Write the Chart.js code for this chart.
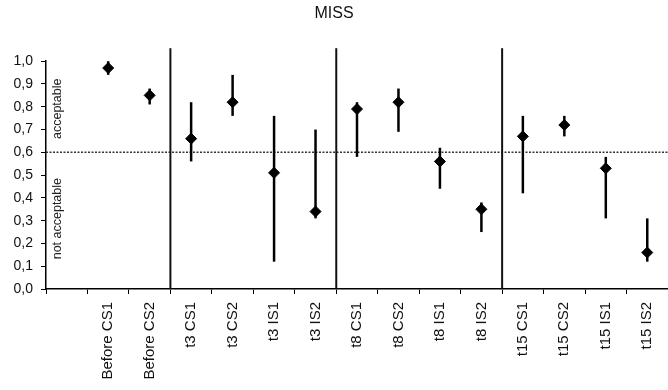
<!DOCTYPE html>
<html>
<head>
<meta charset="utf-8">
<script src="https://cdn.jsdelivr.net/npm/chart.js@4"></script>
<style>
  html, body { margin: 0; padding: 0; background: #fff; }
  #wrap { width: 668px; height: 390px; }
</style>
</head>
<body>
<div id="wrap"><canvas id="missChart"></canvas></div>
<script>
var categories = ['Before CS1', 'Before CS2', 't3 CS1', 't3 CS2', 't3 IS1', 't3 IS2',
  't8 CS1', 't8 CS2', 't8 IS1', 't8 IS2', 't15 CS1', 't15 CS2', 't15 IS1', 't15 IS2'];
var missValues = [0.97, 0.85, 0.66, 0.82, 0.51, 0.34, 0.79, 0.82, 0.56, 0.35, 0.67, 0.72, 0.53, 0.16];
var lowerValues = [0.94, 0.81, 0.56, 0.76, 0.12, 0.31, 0.58, 0.69, 0.44, 0.25, 0.42, 0.67, 0.31, 0.12];
var upperValues = [1.00, 0.88, 0.82, 0.94, 0.76, 0.70, 0.82, 0.88, 0.62, 0.38, 0.76, 0.76, 0.58, 0.31];
var yTicks = [0, 0.1, 0.2, 0.3, 0.4, 0.5, 0.6, 0.7, 0.8, 0.9, 1.0];
var threshold = 0.6;
var groupEnds = ['Before CS2', 't3 IS2', 't8 IS2'];

// primera categoria vacia como en el original
var labels = [''].concat(categories);
var values = [null].concat(missValues);
var lows = [null].concat(lowerValues);
var highs = [null].concat(upperValues);

var FONT = "'Liberation Sans', Arial, sans-serif";

var missPlugin = {
  id: 'missExtras',
  beforeDatasetsDraw: function (chart) {
    var ctx = chart.ctx, area = chart.chartArea;
    var x = chart.scales.x, y = chart.scales.y;
    ctx.save();

    // linea de aceptacion
    var ty = y.getPixelForValue(threshold);
    ctx.strokeStyle = '#333';
    ctx.lineWidth = 1.5;
    ctx.setLineDash([2, 1.5]);
    ctx.beginPath();
    ctx.moveTo(area.left, ty);
    ctx.lineTo(area.right, ty);
    ctx.stroke();
    ctx.setLineDash([]);

    // separadores de grupo
    ctx.strokeStyle = '#111';
    ctx.lineWidth = 2;
    groupEnds.forEach(function (name) {
      var i = labels.indexOf(name);
      var sx = (x.getPixelForValue(i) + x.getPixelForValue(i + 1)) / 2;
      ctx.beginPath();
      ctx.moveTo(sx, area.top - 13);
      ctx.lineTo(sx, area.bottom);
      ctx.stroke();
    });

    // barras de error
    ctx.strokeStyle = '#000';
    ctx.lineWidth = 2.5;
    for (var i = 0; i < labels.length; i++) {
      if (lows[i] == null) continue;
      var px = x.getPixelForValue(i);
      ctx.beginPath();
      ctx.moveTo(px, y.getPixelForValue(lows[i]));
      ctx.lineTo(px, y.getPixelForValue(highs[i]));
      ctx.stroke();
    }

    // textos aceptable / no aceptable
    ctx.fillStyle = '#222';
    ctx.font = '12.5px ' + FONT;
    ctx.textAlign = 'center';
    ctx.textBaseline = 'middle';
    var tx = area.left + 12;
    [[(area.top + ty) / 2 + 2, 'acceptable'], [(ty + area.bottom) / 2 - 2, 'not acceptable']].forEach(function (t) {
      ctx.save();
      ctx.translate(tx, t[0]);
      ctx.rotate(-Math.PI / 2);
      ctx.fillText(t[1], 0, 0);
      ctx.restore();
    });
    ctx.restore();
  }
};

var chart = new Chart(document.getElementById('missChart'), {
  type: 'line',
  data: {
    labels: labels,
    datasets: [{
      data: values,
      showLine: false,
      pointStyle: 'rectRot',
      pointRadius: 5.5,
      pointHoverRadius: 5.5,
      backgroundColor: '#000',
      borderColor: '#000',
      borderWidth: 1
    }]
  },
  options: {
    responsive: true,
    maintainAspectRatio: false,
    animation: false,
    events: [],
    layout: { padding: 0, autoPadding: false },
    plugins: {
      legend: { display: false },
      tooltip: { enabled: false },
      title: {
        display: true,
        text: 'MISS',
        color: '#111',
        font: { family: FONT, size: 16, weight: 'normal' },
        padding: { top: 4, bottom: 38 }
      }
    },
    scales: {
      x: {
        type: 'category',
        offset: true,
        grid: { display: true, drawOnChartArea: false, drawTicks: true, tickLength: 5, color: '#000', offset: true },
        border: { display: true, color: '#000', width: 1.5 },
        ticks: {
          color: '#111',
          font: { family: FONT, size: 15 },
          minRotation: 90,
          maxRotation: 90,
          autoSkip: false,
          padding: 8
        },
        afterFit: function (scale) {
          scale.height = 101;
          scale.paddingLeft = 0;
          scale.paddingRight = 0;
        }
      },
      y: {
        min: 0,
        max: 1,
        grid: { display: true, drawOnChartArea: false, drawTicks: true, tickLength: 5, color: '#000' },
        border: { display: true, color: '#000', width: 1.5 },
        afterBuildTicks: function (scale) {
          scale.ticks = yTicks.map(function (v) { return { value: v }; });
        },
        ticks: {
          color: '#111',
          font: { family: FONT, size: 14 },
          padding: 8,
          callback: function (v) { return v.toFixed(1).replace('.', ','); }
        },
        afterFit: function (scale) { scale.width = 46; }
      }
    }
  },
  plugins: [missPlugin]
});
</script>
</body>
</html>
